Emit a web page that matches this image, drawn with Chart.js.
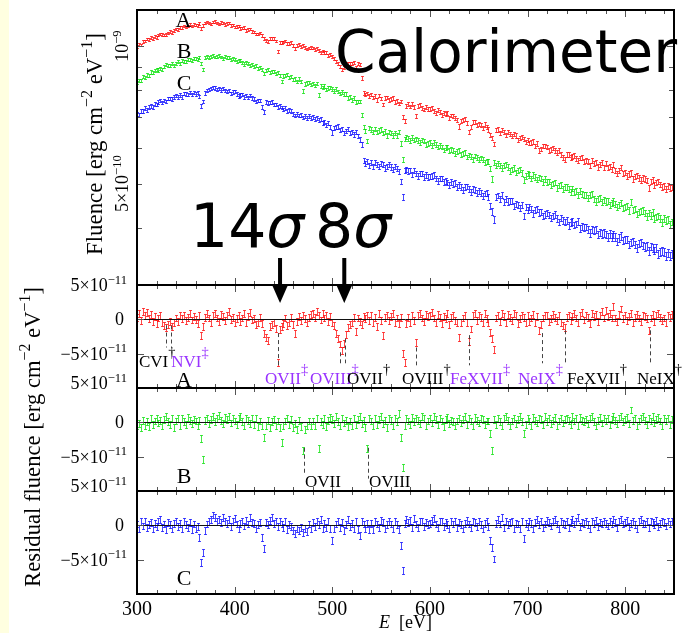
<!DOCTYPE html>
<html>
<head>
<meta charset="utf-8">
<title>Calorimeter spectra and residuals</title>
<script src="https://cdn.jsdelivr.net/npm/chart.js@4.4.1/dist/chart.umd.min.js"></script>
<style>
  html, body { margin: 0; padding: 0; background: #fff; }
  #wrap { position: relative; width: 685px; height: 633px; overflow: hidden; background: #fff; }
  #strip { position: absolute; left: 0; top: 0; width: 9px; height: 633px; background: #ffffe0; }
  canvas { position: absolute; left: 0; top: 0; }
</style>
</head>
<body>
<div id="wrap">
  <div id="strip"></div>
  <canvas id="panelC" width="685" height="633"></canvas>
  <canvas id="panelB" width="685" height="633"></canvas>
  <canvas id="panelA" width="685" height="633"></canvas>
  <canvas id="panelTop" width="685" height="633"></canvas>
</div>
<script>
// ---- bin centres (eV), 2 eV bins ----
const energy = [
  300,302,304,306,308,310,312,314,316,318,
  320,322,324,326,328,330,332,334,336,338,
  340,342,344,346,348,350,352,354,356,358,
  360,362,364,366,368,370,372,374,376,378,
  380,382,384,386,388,390,392,394,396,398,
  400,402,404,406,408,410,412,414,416,418,
  420,422,424,426,428,430,432,434,436,438,
  440,442,444,446,448,450,452,454,456,458,
  460,462,464,466,468,470,472,474,476,478,
  480,482,484,486,488,490,492,494,496,498,
  500,502,504,506,508,510,512,514,516,518,
  520,522,524,526,528,530,532,534,536,538,
  540,542,544,546,548,550,552,554,556,558,
  560,562,564,566,568,570,572,574,576,578,
  580,582,584,586,588,590,592,594,596,598,
  600,602,604,606,608,610,612,614,616,618,
  620,622,624,626,628,630,632,634,636,638,
  640,642,644,646,648,650,652,654,656,658,
  660,662,664,666,668,670,672,674,676,678,
  680,682,684,686,688,690,692,694,696,698,
  700,702,704,706,708,710,712,714,716,718,
  720,722,724,726,728,730,732,734,736,738,
  740,742,744,746,748,750,752,754,756,758,
  760,762,764,766,768,770,772,774,776,778,
  780,782,784,786,788,790,792,794,796,798,
  800,802,804,806,808,810,812,814,816,818,
  820,822,824,826,828,830,832,834,836,838,
  840,842,844,846,848
];

// ---- fluence, in units of 1e-10 erg cm^-2 eV^-1 ----
const fluenceA = [
  9.99,10.10,10.06,10.25,10.26,10.36,10.33,10.44,10.39,10.51,
  10.45,10.57,10.64,10.59,10.58,10.60,10.68,10.76,10.72,10.81,
  10.90,10.88,10.99,10.98,11.06,11.01,11.08,11.15,11.08,11.15,
  11.13,11.09,11.22,10.94,11.09,11.23,11.29,11.24,11.18,11.29,
  11.32,11.25,11.19,11.28,11.23,11.15,11.20,11.24,11.11,11.12,
  11.01,11.04,11.06,10.93,10.95,10.98,10.82,10.87,10.90,10.76,
  10.75,10.63,10.63,10.68,10.56,10.39,10.30,10.22,10.38,10.39,
  10.38,10.27,9.73,10.18,10.20,10.21,10.26,10.12,10.14,10.18,
  10.04,9.89,10.03,10.07,9.98,10.03,9.95,9.86,9.91,9.92,
  9.91,9.82,9.88,9.78,9.69,9.76,9.67,9.68,9.56,9.60,
  9.48,9.41,9.27,9.16,9.04,8.91,8.99,9.08,9.15,9.17,
  9.18,9.23,8.99,9.17,9.10,8.52,7.90,7.84,7.87,7.78,
  7.83,7.72,7.78,7.63,7.80,7.68,7.45,7.71,7.72,7.63,
  7.67,7.69,7.54,7.59,7.49,7.56,7.01,6.85,7.40,7.47,
  7.38,7.46,7.37,7.03,7.40,7.42,7.33,7.27,7.35,7.30,
  7.30,7.32,7.22,7.14,7.24,7.18,7.07,7.15,7.09,7.14,
  6.96,7.05,7.04,6.95,6.90,6.67,6.85,6.90,6.92,6.79,
  6.49,6.65,6.82,6.83,6.71,6.77,6.72,6.63,6.74,6.64,
  6.57,6.40,6.29,6.11,6.55,6.57,6.46,6.56,6.49,6.39,
  6.49,6.42,6.35,6.43,6.37,6.24,6.29,6.32,6.27,6.17,
  6.24,6.14,6.16,6.19,6.05,6.12,5.90,5.96,6.04,6.05,
  6.02,5.92,5.94,5.98,5.92,5.85,5.91,5.79,5.71,5.66,
  5.79,5.80,5.70,5.74,5.76,5.68,5.61,5.69,5.71,5.58,
  5.62,5.59,5.48,5.61,5.54,5.56,5.44,5.50,5.55,5.43,
  5.53,5.42,5.45,5.37,5.52,5.34,5.27,5.35,5.42,5.26,
  5.30,5.20,5.25,5.28,5.12,5.19,5.21,5.15,5.09,5.15,
  5.12,5.08,4.89,5.05,5.09,4.97,5.03,5.05,4.98,4.91,
  4.94,4.86,4.94,4.90,4.92
];
const fluenceB = [
  8.34,8.42,8.41,8.57,8.55,8.65,8.63,8.78,8.74,8.84,
  8.91,8.87,8.95,8.90,9.02,9.11,9.06,9.06,9.16,9.07,
  9.18,9.24,9.17,9.30,9.27,9.26,9.37,9.35,9.32,9.39,
  9.39,9.35,9.44,9.17,8.88,9.46,9.50,9.43,9.49,9.55,
  9.47,9.51,9.55,9.47,9.40,9.48,9.43,9.45,9.34,9.40,
  9.33,9.26,9.31,9.32,9.21,9.14,9.20,9.15,9.07,9.12,
  9.01,9.07,8.92,8.99,8.90,8.70,8.85,8.90,8.76,8.82,
  8.82,8.71,8.74,8.62,8.38,8.60,8.64,8.66,8.54,8.59,
  8.44,8.48,8.37,8.48,8.36,7.98,8.27,8.30,8.34,8.24,
  8.29,8.19,8.28,7.81,8.18,8.12,8.18,8.04,8.10,8.12,
  8.06,7.98,8.05,7.96,7.87,7.94,7.85,7.85,7.71,7.74,
  7.63,7.69,7.55,7.57,7.57,7.08,6.65,6.52,6.20,6.62,
  6.57,6.48,6.59,6.48,6.54,6.57,6.45,6.50,6.38,6.49,
  6.45,6.37,6.45,6.38,6.49,6.12,5.66,6.26,6.33,6.28,
  6.22,6.31,6.23,6.27,6.22,6.15,6.24,6.20,6.09,6.13,
  6.16,6.07,6.15,6.09,6.01,6.07,6.02,5.93,6.00,6.01,
  5.91,5.94,5.90,5.82,5.87,5.90,5.80,5.83,5.86,5.72,
  5.78,5.74,5.66,5.75,5.70,5.64,5.69,5.66,5.57,5.60,
  5.59,5.39,5.12,5.56,5.47,5.54,5.47,5.41,5.48,5.50,
  5.44,5.33,5.38,5.41,5.30,5.34,5.38,5.28,5.09,5.20,
  5.26,5.22,5.13,5.22,5.17,5.11,5.16,5.13,5.04,5.12,
  5.04,5.06,4.97,5.01,5.03,4.89,4.95,4.97,4.87,4.91,
  4.91,4.86,4.79,4.88,4.80,4.82,4.72,4.81,4.75,4.72,
  4.73,4.66,4.72,4.74,4.64,4.57,4.64,4.66,4.56,4.61,
  4.57,4.59,4.49,4.54,4.57,4.51,4.44,4.50,4.53,4.43,
  4.45,4.47,4.37,4.55,4.38,4.40,4.29,4.34,4.36,4.37,
  4.31,4.24,4.31,4.26,4.32,4.20,4.23,4.25,4.19,4.11,
  4.19,4.15,4.17,4.07,4.12
];
const fluenceC = [
  7.10,7.08,7.22,7.20,7.31,7.26,7.35,7.41,7.36,7.47,
  7.45,7.55,7.61,7.53,7.61,7.56,7.68,7.68,7.65,7.74,
  7.79,7.74,7.81,7.75,7.88,7.85,7.83,7.91,7.83,7.92,
  7.86,7.91,7.76,7.41,7.56,7.89,7.99,8.04,8.07,8.13,
  8.10,8.04,8.07,8.01,8.07,8.00,7.96,7.99,7.88,7.93,
  7.96,7.86,7.78,7.82,7.83,7.74,7.79,7.72,7.79,7.70,
  7.67,7.56,7.60,7.61,7.37,7.19,7.55,7.50,7.53,7.55,
  7.45,7.45,7.35,7.39,7.34,7.27,7.33,7.20,7.25,7.20,
  7.12,7.05,7.10,7.05,7.08,6.98,7.02,6.96,7.04,6.96,
  7.01,6.92,6.96,6.88,6.92,6.78,6.82,6.73,6.79,6.66,
  6.47,6.61,6.66,6.67,6.56,6.60,6.45,6.52,6.58,6.46,
  6.49,6.41,6.49,6.36,6.25,6.10,5.61,5.53,5.58,5.49,
  5.56,5.46,5.56,5.52,5.46,5.54,5.51,5.41,5.46,5.50,
  5.44,5.37,5.45,5.39,5.31,5.06,4.68,5.35,5.38,5.33,
  5.35,5.24,5.35,5.26,5.20,5.26,5.26,5.17,5.22,5.17,
  5.18,5.20,5.22,5.13,5.07,5.13,5.13,5.04,5.07,5.03,
  4.97,5.04,4.99,5.02,4.91,4.97,4.92,4.84,4.91,4.93,
  4.86,4.80,4.87,4.84,4.77,4.82,4.77,4.70,4.76,4.77,
  4.68,4.47,4.35,4.17,4.67,4.71,4.63,4.72,4.56,4.63,
  4.57,4.58,4.59,4.46,4.52,4.50,4.43,4.50,4.25,4.45,
  4.38,4.45,4.40,4.30,4.38,4.40,4.32,4.34,4.25,4.28,
  4.31,4.27,4.21,4.25,4.28,4.19,4.12,4.21,4.15,4.12,
  4.15,4.05,4.11,4.13,4.06,4.08,4.13,3.98,4.03,4.00,
  4.02,3.96,3.90,3.97,3.94,3.97,3.87,3.91,3.88,3.90,
  3.87,3.82,3.88,3.82,3.87,3.82,3.74,3.80,3.84,3.75,
  3.77,3.78,3.68,3.72,3.74,3.68,3.61,3.70,3.72,3.66,
  3.63,3.65,3.56,3.64,3.61,3.57,3.61,3.51,3.55,3.56,
  3.54,3.47,3.53,3.48,3.50
];

// ---- residual fluence, in units of 1e-11 erg cm^-2 eV^-1 ----
const residA = [
  0.3,0.8,-0.2,1.1,0.6,1.0,0.1,0.7,-0.3,0.4,
  -0.6,0.2,0.5,-0.4,-0.9,-1.2,-0.7,-0.3,-1.0,-0.4,
  0.2,-0.3,0.5,0.1,0.6,-0.2,0.3,0.8,-0.1,0.4,
  0.0,-0.6,0.5,-2.4,-1.0,0.3,0.8,0.2,-0.4,0.6,
  0.9,0.2,-0.3,0.7,0.4,-0.2,0.5,1.1,0.0,0.3,
  -0.5,0.1,0.6,-0.3,0.2,0.8,-0.4,0.4,1.0,-0.1,
  0.1,-0.8,-0.4,0.3,-0.6,-2.0,-2.6,-3.1,-1.1,-0.7,
  -0.5,-1.3,-6.3,-1.5,-1.0,-0.6,0.2,-0.9,-0.4,0.3,
  -0.8,-2.0,-0.3,0.4,-0.2,0.6,0.1,-0.5,0.3,0.7,
  0.9,0.3,1.2,0.5,-0.1,0.8,0.2,0.6,-0.3,0.4,
  -0.5,-0.9,-2.0,-2.8,-3.6,-4.6,-3.5,-2.2,-1.2,-0.7,
  -0.4,0.3,-1.8,0.2,-0.3,-0.8,0.4,0.1,0.6,-0.2,
  0.5,-0.4,0.3,-1.0,0.8,-0.2,-2.4,0.3,0.6,-0.2,
  0.4,0.8,-0.5,0.2,-0.6,0.3,-5.0,-6.3,-0.6,0.3,
  -0.4,0.5,-0.2,-3.4,0.5,0.9,0.2,-0.3,0.7,0.4,
  0.6,1.0,0.2,-0.4,0.7,0.3,-0.6,0.4,0.1,0.8,
  -0.8,0.3,0.5,-0.2,-0.5,-2.6,-0.5,0.2,0.6,-0.4,
  -3.2,-1.4,0.5,0.8,-0.2,0.6,0.3,-0.4,0.9,0.1,
  -0.4,-1.9,-2.8,-4.4,0.2,0.6,-0.3,0.9,0.4,-0.5,
  0.7,0.3,-0.2,0.8,0.5,-0.6,0.1,0.6,0.3,-0.4,
  0.5,-0.3,0.2,0.7,-0.5,0.4,-1.6,-0.8,0.2,0.6,
  0.5,-0.3,0.1,0.7,0.3,-0.2,0.6,-0.4,-0.9,-1.2,
  0.3,0.6,-0.2,0.4,0.8,0.2,-0.4,0.6,1.0,-0.1,
  0.5,0.3,-0.6,0.9,0.4,0.7,-0.3,0.5,1.2,0.2,
  1.3,0.4,0.8,0.2,1.9,0.2,-0.3,0.7,1.5,0.1,
  0.6,-0.2,0.4,0.9,-0.5,0.3,0.7,0.2,-0.3,0.5,
  0.4,0.1,-1.6,0.2,0.7,-0.3,0.5,0.8,0.3,-0.2,
  0.2,-0.4,0.6,0.3,0.7
];
const residB = [
  -0.5,-0.2,-0.8,0.3,-0.4,0.1,-0.6,0.5,-0.3,0.2,
  0.6,-0.1,0.3,-0.5,0.4,0.8,0.1,-0.3,0.5,-0.7,
  0.2,0.5,-0.4,0.6,0.1,-0.3,0.7,0.3,-0.2,0.4,
  0.2,-0.4,0.3,-2.4,-5.4,0.3,0.6,-0.2,0.4,0.9,
  0.1,0.5,1.0,0.3,-0.2,0.7,0.4,0.8,-0.1,0.6,
  0.2,-0.3,0.5,0.9,0.1,-0.4,0.6,0.3,-0.2,0.5,
  -0.3,0.5,-0.6,0.2,-0.4,-2.2,-0.4,0.3,-0.7,0.1,
  0.4,-0.5,0.2,-0.8,-2.9,-0.5,0.2,0.6,-0.3,0.4,
  -0.8,-0.2,-1.0,0.3,-0.6,-4.1,-1.0,-0.4,0.2,-0.5,
  0.2,-0.5,0.6,-3.8,0.1,-0.3,0.5,-0.6,0.3,0.7,
  0.4,-0.2,0.8,0.1,-0.4,0.5,-0.1,0.3,-0.6,0.2,
  -0.5,0.6,-0.3,0.4,0.9,-0.2,0.3,-0.7,-3.8,0.5,
  0.2,-0.5,0.6,-0.3,0.4,0.9,-0.2,0.3,-0.7,0.5,
  0.3,-0.4,0.6,0.1,1.3,-2.2,-6.6,-0.4,0.5,0.2,
  -0.3,0.7,0.1,0.6,0.3,-0.2,0.8,0.5,-0.4,0.2,
  0.6,-0.1,0.9,0.4,-0.3,0.5,0.2,-0.6,0.4,0.7,
  -0.2,0.3,0.1,-0.5,0.2,0.6,-0.1,0.4,0.8,-0.3,
  0.5,0.2,-0.4,0.7,0.3,-0.1,0.6,0.4,-0.3,0.2,
  0.2,-1.6,-4.1,0.4,-0.3,0.6,0.1,-0.4,0.5,0.8,
  0.3,-0.5,0.2,0.6,-0.2,0.4,0.9,0.1,-1.6,-0.3,
  0.5,0.2,-0.4,0.7,0.3,-0.1,0.6,0.4,-0.3,0.8,
  0.1,0.5,-0.2,0.3,0.7,-0.5,0.2,0.6,-0.1,0.4,
  0.6,0.3,-0.3,0.8,0.2,0.5,-0.4,0.7,0.3,0.1,
  0.4,-0.2,0.6,0.9,0.1,-0.5,0.3,0.7,-0.1,0.5,
  0.2,0.6,-0.3,0.4,0.8,0.3,-0.2,0.5,0.9,0.1,
  0.4,0.7,-0.2,1.8,0.3,0.6,-0.4,0.2,0.5,0.8,
  0.3,-0.3,0.6,0.2,0.9,-0.1,0.4,0.7,0.2,-0.4,
  0.5,0.2,0.6,-0.3,0.4
];
const residC = [
  0.2,-0.4,0.5,-0.1,0.6,-0.3,0.1,0.4,-0.5,0.3,
  -0.2,0.5,0.8,-0.3,0.2,-0.6,0.4,0.1,-0.4,0.3,
  0.5,-0.2,0.3,-0.5,0.6,0.1,-0.3,0.4,-0.6,0.2,
  -0.5,-0.2,-1.8,-5.4,-4.0,-0.7,0.2,0.6,0.9,1.5,
  1.2,0.6,0.9,0.4,1.1,0.6,0.3,0.8,-0.2,0.5,
  1.0,0.2,-0.4,0.3,0.6,-0.1,0.7,0.2,1.1,0.4,
  0.3,-0.5,0.1,0.4,-1.8,-3.4,0.4,0.1,0.7,1.1,
  0.3,0.6,-0.2,0.5,0.2,-0.3,0.5,-0.6,0.1,-0.2,
  -0.8,-1.2,-0.5,-0.8,-0.3,-1.1,-0.5,-0.9,0.2,-0.4,
  0.4,-0.2,0.6,0.1,0.8,-0.4,0.3,-0.3,0.5,-0.5,
  -2.2,-0.5,0.2,0.6,-0.3,0.4,-0.8,0.1,0.9,-0.2,
  0.3,-0.4,0.5,-0.6,-1.5,0.5,0.2,-0.4,0.3,-0.6,
  0.3,-0.6,0.5,0.2,-0.3,0.7,0.4,-0.5,0.1,0.6,
  0.2,-0.4,0.5,0.1,-0.6,-2.9,-6.6,0.3,0.8,0.4,
  0.7,-0.3,1.0,0.2,-0.3,0.5,0.6,-0.2,0.4,0.1,
  0.3,0.7,1.0,0.2,-0.3,0.5,0.6,-0.2,0.4,0.1,
  -0.4,0.5,0.2,0.6,-0.3,0.4,0.1,-0.5,0.3,0.7,
  0.2,-0.3,0.6,0.4,-0.2,0.5,0.1,-0.4,0.3,0.6,
  -0.2,-2.2,-3.2,-4.9,0.3,0.8,0.2,1.2,-0.3,0.5,
  0.1,0.4,0.6,-0.5,0.3,0.2,-0.4,0.5,-1.9,0.3,
  -0.2,0.6,0.3,-0.5,0.4,0.8,0.1,0.5,-0.3,0.2,
  0.7,0.4,-0.1,0.5,0.9,0.2,-0.4,0.6,0.3,0.1,
  0.5,-0.3,0.4,0.8,0.2,0.6,1.1,-0.2,0.4,0.3,
  0.6,0.1,-0.4,0.5,0.3,0.7,-0.2,0.4,0.2,0.5,
  0.3,-0.1,0.6,0.2,0.8,0.4,-0.3,0.5,0.9,0.2,
  0.4,0.7,-0.2,0.3,0.6,0.1,-0.4,0.5,0.8,0.3,
  0.2,0.5,-0.3,0.6,0.4,0.1,0.7,-0.2,0.3,0.5,
  0.4,-0.1,0.6,0.2,0.5
];

const FLUENCE_UNIT = 1e-10;
const RESID_UNIT = 1e-11;
const fluenceErr = 0.07;   // 1-sigma, same units as fluence arrays
const residErr = 0.5;      // 1-sigma, same units as residual arrays

// ---- axis ticks and labels ----
const xTickValues = [300, 400, 500, 600, 700, 800];
const xTickLabels = ['300', '400', '500', '600', '700', '800'];
const fluenceMajorTicks = [1e-9];
const fluenceMinorTicks = [4e-10, 5e-10, 6e-10, 7e-10, 8e-10, 9e-10];
const fluenceTickLabels = [
  { v: 1e-9, base: '10', exp: '\u22129' },
  { v: 5e-10, base: '5\u00d710', exp: '\u221210' }
];
const residTicks = [5e-11, 0, -5e-11];
const residTickLabels = [
  { v: 5e-11, base: '5\u00d710', exp: '\u221211' },
  { v: 0, base: '0', exp: '' },
  { v: -5e-11, base: '\u22125\u00d710', exp: '\u221211' }
];

// ---- line identifications ----
const PURPLE = '#9933ff';
const BLACK = '#000000';
const lineMarksA = [
  { e: 329.7, from: -0.9, to: -4.1 },
  { e: 334.8, from: -0.9, to: -4.1 },
  { e: 444.4, from: -2.0, to: -7.1 },
  { e: 508.0, from: -4.8, to: -6.4 },
  { e: 513.0, from: -2.8, to: -6.4 },
  { e: 585.7, from: -4.1, to: -6.7 },
  { e: 640.0, from: -2.3, to: -6.7 },
  { e: 714.8, from: -2.0, to: -6.4 },
  { e: 738.3, from: -1.6, to: -6.4 },
  { e: 825.4, from: -1.6, to: -6.4 }
];
const lineLabelsA = [
  { name: 'CVI', mark: '\u2020', e: 302.0, row: 0, color: BLACK },
  { name: 'NVI', mark: '\u2021', e: 335.0, row: 0, color: PURPLE },
  { name: 'OVII', mark: '\u2021', e: 431.1, row: 1, color: PURPLE },
  { name: 'OVIII', mark: '\u2021', e: 477.2, row: 1, color: PURPLE },
  { name: 'OVII', mark: '\u2020', e: 515.1, row: 1, color: BLACK },
  { name: 'OVIII', mark: '\u2020', e: 571.4, row: 1, color: BLACK },
  { name: 'FeXVII', mark: '\u2021', e: 620.6, row: 1, color: PURPLE },
  { name: 'NeIX', mark: '\u2021', e: 690.2, row: 1, color: PURPLE },
  { name: 'FeXVII', mark: '\u2020', e: 740.4, row: 1, color: BLACK },
  { name: 'NeIX', mark: '\u2020', e: 812.1, row: 1, color: BLACK }
];
const lineMarksB = [
  { e: 471.0, from: -3.7, to: -7.6 },
  { e: 536.6, from: -3.7, to: -8.2 }
];
const lineLabelsB = [
  { name: 'OVII', mark: '', e: 472.1, row: 0, color: BLACK },
  { name: 'OVIII', mark: '', e: 537.6, row: 0, color: BLACK }
];
const significanceArrows = [
  { e: 446.5, text: '14', originX: 190 },
  { e: 512.3, text: '8', originX: 315 }
];

// ---- layout ----
const W = 685, H = 633;
const PLOT_LEFT = 137, PLOT_RIGHT = 674;
const CAP = 1.5;
const SERIF = '"Liberation Serif", "Times New Roman", serif';
const SANS = '"DejaVu Sans", "Bitstream Vera Sans", sans-serif';

function richWidth(ctx, segs, size, fam, k) {
  let w = 0;
  for (const s of segs) {
    ctx.font = (s.italic ? 'italic ' : '') + (s.sup ? size * k : size) + 'px ' + fam;
    w += ctx.measureText(s.t).width;
  }
  return w;
}

function drawRich(ctx, segs, x, y, o) {
  const size = o.size, fam = o.family || SERIF, k = o.supScale || 0.7;
  const rise = o.rise == null ? 0.4 : o.rise;
  const fontOf = s => (s.italic ? 'italic ' : '') + (s.sup ? size * k : size) + 'px ' + fam;
  const widths = segs.map(s => { ctx.font = fontOf(s); return ctx.measureText(s.t).width; });
  const w = widths.reduce((p, q) => p + q, 0);
  ctx.save();
  ctx.translate(x, y);
  if (o.rotate) ctx.rotate(o.rotate);
  ctx.textAlign = 'left';
  ctx.textBaseline = 'alphabetic';
  let cx = o.align === 'right' ? -w : (o.align === 'center' ? -w / 2 : 0);
  segs.forEach((s, i) => {
    ctx.font = fontOf(s);
    ctx.fillStyle = s.color || o.color || '#000';
    ctx.fillText(s.t, cx, s.sup ? -size * rise : 0);
    cx += widths[i];
  });
  ctx.restore();
  return w;
}

function drawFrameAndTicks(chart, yMajor, yMinor) {
  const { ctx, chartArea: a, scales: { x, y } } = chart;
  ctx.save();
  ctx.strokeStyle = '#555';
  ctx.lineWidth = 1;
  ctx.beginPath();
  for (let e = 320; e < 850; e += 20) {
    const px = Math.round(x.getPixelForValue(e)) + 0.5;
    const len = (e % 100 === 0) ? 7 : 4;
    ctx.moveTo(px, a.top); ctx.lineTo(px, a.top + len);
    ctx.moveTo(px, a.bottom); ctx.lineTo(px, a.bottom - len);
  }
  const yTick = (v, len) => {
    const py = Math.round(y.getPixelForValue(v)) + 0.5;
    ctx.moveTo(a.left, py); ctx.lineTo(a.left + len, py);
    ctx.moveTo(a.right, py); ctx.lineTo(a.right - len, py);
  };
  yMajor.forEach(v => yTick(v, 7));
  yMinor.forEach(v => yTick(v, 5));
  ctx.stroke();
  ctx.strokeStyle = '#000';
  ctx.lineWidth = 2;
  ctx.strokeRect(a.left, a.top, a.right - a.left, a.bottom - a.top);
  ctx.restore();
}

// vertical error bars with short caps, placed through the chart's own scales
function drawErrorBars(ctx, chart, datasetIndex, err, color) {
  const { scales: { y } } = chart;
  const pts = chart.data.datasets[datasetIndex].data;
  ctx.strokeStyle = color;
  ctx.lineWidth = 1;
  chart.getDatasetMeta(datasetIndex).data.forEach((el, i) => {
    const v = pts[i].y;
    const px = Math.round(el.x) + 0.5;
    const lo = Math.round(y.getPixelForValue(v - err)) + 0.5;
    const hi = Math.round(y.getPixelForValue(v + err)) + 0.5;
    ctx.beginPath();
    ctx.moveTo(px, lo); ctx.lineTo(px, hi);
    ctx.moveTo(px - CAP, lo); ctx.lineTo(px + CAP, lo);
    ctx.moveTo(px - CAP, hi); ctx.lineTo(px + CAP, hi);
    ctx.stroke();
  });
}

function drawMarks(chart, marks) {
  const { ctx, scales: { x, y } } = chart;
  ctx.save();
  ctx.strokeStyle = '#444';
  ctx.lineWidth = 1;
  ctx.setLineDash([4, 3]);
  marks.forEach(m => {
    const px = Math.round(x.getPixelForValue(m.e)) + 0.5;
    ctx.beginPath();
    ctx.moveTo(px, y.getPixelForValue(m.from * RESID_UNIT));
    ctx.lineTo(px, y.getPixelForValue(m.to * RESID_UNIT));
    ctx.stroke();
  });
  ctx.restore();
}

function drawLineLabels(chart, labels, baselines) {
  const { ctx, scales: { x } } = chart;
  labels.forEach(l => {
    const segs = [{ t: l.name }];
    if (l.mark) segs.push({ t: l.mark, sup: true });
    drawRich(ctx, segs, x.getPixelForValue(l.e), baselines[l.row],
      { size: 17, color: l.color, align: 'left', rise: 0.55, supScale: 0.85 });
  });
}

function drawResidTickLabels(chart, topShift) {
  const { ctx, scales: { y } } = chart;
  residTickLabels.forEach(t => {
    const segs = [{ t: t.base }];
    if (t.exp) segs.push({ t: t.exp, sup: true });
    const shift = t.v > 0 ? topShift : 0;
    const right = t.v === 0 ? 124 : 127;
    drawRich(ctx, segs, right, y.getPixelForValue(t.v) + 6 + shift, { size: 18, align: 'right' });
  });
}

function panelLetter(ctx, letter, cx, baseline) {
  ctx.save();
  ctx.font = '22px ' + SERIF;
  ctx.fillStyle = '#000';
  ctx.textAlign = 'center';
  ctx.textBaseline = 'alphabetic';
  ctx.fillText(letter, cx, baseline);
  ctx.restore();
}

function fittedTitle(ctx, segs, x, y, length) {
  const size = 20 * length / richWidth(ctx, segs, 20, SERIF, 0.7);
  drawRich(ctx, segs, x, y, { size, align: 'center', rotate: -Math.PI / 2, rise: 0.42 });
}

function panelDecor(o) {
  return {
    id: 'decor_' + o.name,
    afterDatasetsDraw(chart) {
      const { ctx, chartArea: a, scales: { y } } = chart;
      ctx.save();
      ctx.beginPath();
      ctx.rect(a.left, a.top, a.right - a.left, a.bottom - a.top);
      ctx.clip();
      drawErrorBars(ctx, chart, 0, o.err * o.unit, o.barColor);
      if (o.zeroLine) {
        const py = Math.round(y.getPixelForValue(0)) + 0.5;
        ctx.strokeStyle = '#111';
        ctx.lineWidth = 1;
        ctx.beginPath();
        ctx.moveTo(a.left, py); ctx.lineTo(a.right, py);
        ctx.stroke();
      }
      ctx.restore();
    },
    afterDraw(chart) {
      drawFrameAndTicks(chart, o.yMajor, o.yMinor);
      if (o.extra) o.extra(chart);
    }
  };
}

function makePanel(id, o) {
  const data = energy.map((e, i) => ({ x: e, y: o.values[i] * o.unit }));
  return new Chart(document.getElementById(id), {
    type: 'scatter',
    data: { datasets: [{ data, pointRadius: 0, pointHoverRadius: 0, borderColor: o.barColor, backgroundColor: o.barColor }] },
    options: {
      responsive: false,
      maintainAspectRatio: false,
      animation: false,
      devicePixelRatio: 1,
      events: [],
      layout: { padding: { left: PLOT_LEFT, right: W - PLOT_RIGHT, top: o.top, bottom: H - o.bottom } },
      scales: {
        x: { type: 'linear', min: 300, max: 850, display: false },
        y: Object.assign({ display: false }, o.y)
      },
      plugins: { legend: { display: false }, tooltip: { enabled: false }, title: { display: false } }
    },
    plugins: [panelDecor(o)]
  });
}

const residScale = { type: 'linear', min: -1e-10, max: 5e-11 };
const RED = 'rgba(255,0,0,0.72)', GREEN = 'rgba(0,225,0,0.72)', BLUE = 'rgba(0,0,255,0.72)';

// lower residual panels
makePanel('panelC', {
  name: 'C', values: residC, unit: RESID_UNIT, err: residErr, barColor: BLUE,
  top: 491, bottom: 594, y: residScale, zeroLine: true, yMajor: residTicks, yMinor: [],
  extra(chart) {
    const { ctx, scales: { x } } = chart;
    drawResidTickLabels(chart, -5);
    panelLetter(ctx, 'C', 184, 585);
    ctx.save();
    ctx.font = '20px ' + SERIF;
    ctx.fillStyle = '#000';
    ctx.textAlign = 'center';
    ctx.textBaseline = 'alphabetic';
    xTickValues.forEach((v, i) => ctx.fillText(xTickLabels[i], x.getPixelForValue(v), 615));
    ctx.restore();
    drawRich(ctx, [{ t: 'E', italic: true }, { t: '  [eV]' }], (PLOT_LEFT + PLOT_RIGHT) / 2, 628,
      { size: 18, align: 'center' });
  }
});

makePanel('panelB', {
  name: 'B', values: residB, unit: RESID_UNIT, err: residErr, barColor: GREEN,
  top: 388, bottom: 491, y: residScale, zeroLine: true, yMajor: residTicks, yMinor: [],
  extra(chart) {
    const { ctx } = chart;
    drawMarks(chart, lineMarksB);
    drawLineLabels(chart, lineLabelsB, [486.5]);
    drawResidTickLabels(chart, -5);
    panelLetter(ctx, 'B', 184, 482.5);
    fittedTitle(ctx, [{ t: 'Residual fluence [erg cm' }, { t: '\u22122', sup: true }, { t: ' eV' },
      { t: '\u22121', sup: true }, { t: ']' }], 40, 437, 300);
  }
});

makePanel('panelA', {
  name: 'A', values: residA, unit: RESID_UNIT, err: residErr, barColor: RED,
  top: 285, bottom: 388, y: residScale, zeroLine: true, yMajor: residTicks, yMinor: [],
  extra(chart) {
    const { ctx } = chart;
    drawMarks(chart, lineMarksA);
    drawLineLabels(chart, lineLabelsA, [366.5, 383.5]);
    drawResidTickLabels(chart, 0);
    panelLetter(ctx, 'A', 184, 386.5);
  }
});

// upper panel: three spectra share one logarithmic axis
const spectra = [
  { values: fluenceA, color: RED },
  { values: fluenceB, color: GREEN },
  { values: fluenceC, color: BLUE }
];

new Chart(document.getElementById('panelTop'), {
  type: 'scatter',
  data: {
    datasets: spectra.map(s => ({
      data: energy.map((e, i) => ({ x: e, y: s.values[i] * FLUENCE_UNIT })),
      pointRadius: 0, pointHoverRadius: 0, borderColor: s.color, backgroundColor: s.color
    }))
  },
  options: {
    responsive: false,
    maintainAspectRatio: false,
    animation: false,
    devicePixelRatio: 1,
    events: [],
    layout: { padding: { left: PLOT_LEFT, right: W - PLOT_RIGHT, top: 10, bottom: H - 285 } },
    scales: {
      x: { type: 'linear', min: 300, max: 850, display: false },
      y: { type: 'logarithmic', min: 3e-10, max: 1.2e-9, display: false }
    },
    plugins: { legend: { display: false }, tooltip: { enabled: false }, title: { display: false } }
  },
  plugins: [{
    id: 'spectraDecor',
    afterDatasetsDraw(chart) {
      const { ctx, chartArea: a } = chart;
      ctx.save();
      ctx.beginPath();
      ctx.rect(a.left, a.top, a.right - a.left, a.bottom - a.top);
      ctx.clip();
      spectra.forEach((s, d) => drawErrorBars(ctx, chart, d, fluenceErr * FLUENCE_UNIT, s.color));
      ctx.restore();
    },
    afterDraw(chart) {
      const { ctx, scales: { x, y } } = chart;
      drawFrameAndTicks(chart, fluenceMajorTicks, fluenceMinorTicks);

      // rotated tick labels
      fluenceTickLabels.forEach(t => {
        drawRich(ctx, [{ t: t.base }, { t: t.exp, sup: true }], 128, y.getPixelForValue(t.v),
          { size: 18, align: 'center', rotate: -Math.PI / 2 });
      });
      fittedTitle(ctx, [{ t: 'Fluence [erg cm' }, { t: '\u22122', sup: true }, { t: ' eV' },
        { t: '\u22121', sup: true }, { t: ']' }], 102, 144, 222);

      panelLetter(ctx, 'A', 183.5, 26.7);
      panelLetter(ctx, 'B', 184.2, 58);
      panelLetter(ctx, 'C', 184, 90);

      ctx.save();
      ctx.fillStyle = '#000';
      ctx.font = '58px ' + SANS;
      ctx.textAlign = 'left';
      ctx.textBaseline = 'alphabetic';
      ctx.fillText('Calorimeter', 335, 72);
      ctx.restore();

      significanceArrows.forEach(s => {
        drawRich(ctx, [{ t: s.text }, { t: '\u03c3', italic: true }], s.originX, 247,
          { size: 60, family: SANS, align: 'left' });
        const px = x.getPixelForValue(s.e);
        ctx.save();
        ctx.fillStyle = '#000';
        ctx.fillRect(px - 2, 258, 4, 30);
        ctx.beginPath();
        ctx.moveTo(px - 7.5, 286);
        ctx.lineTo(px + 7.5, 286);
        ctx.lineTo(px, 303);
        ctx.closePath();
        ctx.fill();
        ctx.restore();
      });
    }
  }]
});
</script>
</body>
</html>
